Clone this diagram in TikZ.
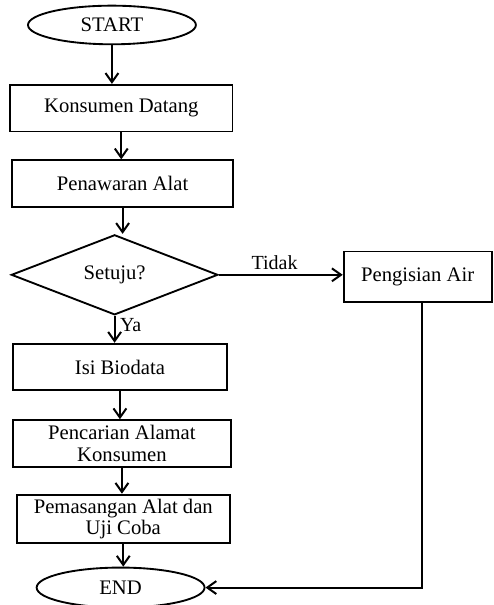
\documentclass[tikz,border=0pt]{standalone}
\usepackage{fontspec}
\setmainfont{Liberation Serif}
\usetikzlibrary{arrows.meta,positioning,shapes.geometric}
\tikzset{
  >={Straight Barb[length=2.4mm, width=3.4mm]},
  flow/.style={->, line width=1.5pt, draw=black},
  box/.style={
    draw=black,
    line width=1.4pt,
    fill=white,
    align=center,
    inner sep=3pt,
    minimum height=35pt,
    font=\fontsize{15.5}{16}\selectfont
  },
  termbox/.style={box, ellipse, minimum width=126pt, minimum height=29pt},
  decisionbox/.style={box, diamond, minimum width=155pt, minimum height=58pt, inner sep=0pt},
  edgelabel/.style={font=\fontsize{15}{16}\selectfont}
}

\begin{document}
\begin{tikzpicture}[node distance=19.5pt and 93pt]
  \useasboundingbox (0,0) rectangle (370pt,-454pt);

  \node[termbox] (start) at (84pt,-18.75pt) {START};
  \node[box, below=29pt of start, xshift=7pt, minimum width=167pt] (datang)
    {Konsumen Datang};
  \node[box, below=20.25pt of datang, xshift=1pt, minimum width=166pt] (tawar)
    {Penawaran Alat};
  \node[decisionbox, below=of tawar, xshift=-6pt] (setuju)
    {Setuju?};
  \node[box, right=of setuju, yshift=-1.5pt, minimum width=111pt, minimum height=38pt] (isiair)
    {Pengisian Air};
  \node[box, below=20.25pt of setuju, xshift=4pt, minimum width=161pt] (biodata)
    {Isi Biodata};
  \node[box, below=21pt of biodata, xshift=1.5pt, minimum width=164pt] (alamat)
    {Pencarian Alamat\\Konsumen};
  \node[box, below=of alamat, xshift=1pt, minimum width=160pt] (pasang)
    {Pemasangan Alat dan\\Uji Coba};
  \node[termbox, below=17.25pt of pasang, xshift=-2pt, minimum height=30pt] (end)
    {END};

  \draw[flow] (start.south) -- (start.south |- datang.north);
  \draw[flow] (datang.south) -- (datang.south |- tawar.north);
  \draw[flow] (tawar.south) -- (tawar.south |- setuju.north);
  \draw[flow] (setuju.east) -- (isiair.west |- setuju.east)
    node[edgelabel, above, pos=0.45] {Tidak};
  \draw[flow] (setuju.south) -- (setuju.south |- biodata.north)
    node[edgelabel, right, pos=0.35] {Ya};
  \draw[flow] (biodata.south) -- (biodata.south |- alamat.north);
  \draw[flow] (alamat.south) -- (alamat.south |- pasang.north);
  \draw[flow] (pasang.south) -- (pasang.south |- end.north);
  \draw[flow] ([xshift=3.5pt]isiair.south) |- (end.east);
\end{tikzpicture}
\end{document}
